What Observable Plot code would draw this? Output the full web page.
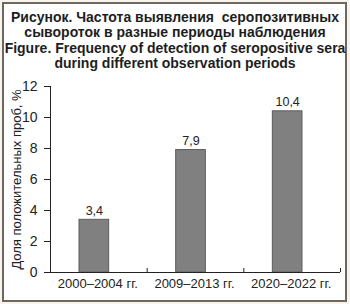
<!DOCTYPE html>
<html>
<head>
<meta charset="utf-8">
<script src="https://cdn.jsdelivr.net/npm/d3@7"></script>
<script src="https://cdn.jsdelivr.net/npm/@observablehq/plot@0.6"></script>
<style>
  html, body { margin: 0; padding: 0; background: #f7f4ef; }
  #wrap { position: relative; width: 350px; height: 304px; background: #f7f4ef; overflow: hidden; font-family: "Liberation Sans", Arial, sans-serif; }
  #frame { position: absolute; left: 2px; top: 2px; width: 341px; height: 296px; border: 2px solid #6f675d; background: #ffffff; }
  #title { position: absolute; left: 0; top: 9.5px; width: 350px; text-align: center; font-weight: bold; font-size: 14px; line-height: 15.5px; color: #1e1e1e; white-space: pre; }
  #chart { position: absolute; left: 0; top: 72px; }
</style>
</head>
<body>
<div id="wrap">
  <div id="frame"></div>
  <div id="title"></div>
  <div id="chart"></div>
</div>
<script>
const titleLines = [
  "Рисунок. Частота выявления  серопозитивных",
  "сывороток в разные периоды наблюдения",
  "Figure. Frequency of detection of seropositive sera",
  "during different observation periods"
];
const periods = ["2000–2004 гг.", "2009–2013 гг.", "2020–2022 гг."];
const values = [3.4, 7.9, 10.4];
const yTicks = [0, 2, 4, 6, 8, 10, 12];
const yLabel = "Доля положительных проб, %";

document.getElementById("title").textContent = titleLines.join("\n");

const data = periods.map((p, i) => ({period: p, idx: i, value: values[i]}));
const bounds = d3.range(periods.length + 1);
const centers = periods.map((p, i) => i + 0.5);

const chart = Plot.plot({
  width: 350,
  height: 229,
  marginLeft: 50,
  marginRight: 10,
  marginTop: 14,
  marginBottom: 29,
  style: {background: "transparent", fontFamily: "'Liberation Sans', Arial, sans-serif", color: "#222"},
  x: {domain: [0, periods.length]},
  y: {domain: [0, 12]},
  marks: [
    Plot.rectY(data, {x1: d => d.idx, x2: d => d.idx + 1, y: "value", insetLeft: 29, insetRight: 38, fill: "#808080", stroke: "#5c5c5c", strokeWidth: 1}),
    Plot.text(data, {x: d => d.idx + 0.5, y: "value", text: d => d.value.toFixed(1).replace(".", ","), dx: -4.5, dy: -9, fontSize: 12.5, fill: "#222"}),
    Plot.ruleY([0], {stroke: "#222"}),
    Plot.ruleX([0], {stroke: "#222"}),
    Plot.axisY({ticks: yTicks, tickSize: 6, tickPadding: 7, fontSize: 14, label: null}),
    Plot.axisY({ticks: [], label: yLabel, fontSize: 13, labelAnchor: "center", labelOffset: 39, labelArrow: "none"}),
    Plot.axisX({ticks: bounds, tickFormat: () => "", tickSize: -4, label: null}),
    Plot.axisX({ticks: centers, tickFormat: v => periods[Math.floor(v)], tickSize: 0, tickPadding: 6, fontSize: 13, dx: -1, label: null})
  ]
});
document.getElementById("chart").appendChild(chart);
</script>
</body>
</html>
